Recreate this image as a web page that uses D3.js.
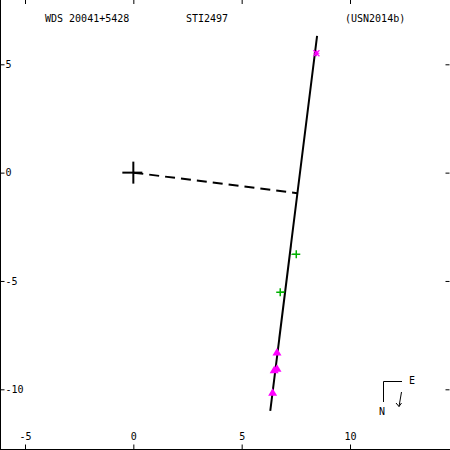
<!DOCTYPE html>
<html>
<head>
<meta charset="utf-8">
<script src="https://cdn.jsdelivr.net/npm/d3@7"></script>
<style>
  body { margin: 0; background: #fff; -webkit-font-smoothing: antialiased; }
  svg { display: block; }
  text { font-family: "DejaVu Sans Mono", monospace; font-size: 10px; fill: #000; }
</style>
</head>
<body>
<svg id="svg" width="450" height="450"></svg>
<script>
// header labels
let titles = ["WDS 20041+5428", "STI2497", "(USN2014b)"];
let titleX = [45, 186, 345];

let xTicks = [-5, 0, 5, 10];
let yTicks = [5, 0, -5, -10];

// orbit line (ends) and the node/periastron foot
let orbitLine = [{x: 8.48, y: 6.31}, {x: 6.32, y: -11.0}];
let nodeLine = [{x: 0, y: 0}, {x: 7.57, y: -0.95}];

// observations: observed point -> predicted point on the orbit
let stars = [
  {x: 8.45, y: 5.51, px: 8.43, py: 5.51}
];
let pluses = [
  {x: 7.52, y: -3.77, px: 7.29, py: -3.77},
  {x: 6.78, y: -5.52, px: 7.00, py: -5.50}
];
let triangles = [
  {x: 6.63, y: -8.30, px: 6.66, py: -8.30},
  {x: 6.50, y: -9.12, px: 6.58, py: -9.12},
  {x: 6.63, y: -9.05, px: 6.58, py: -9.05},
  {x: 6.43, y: -10.16, px: 6.47, py: -10.16}
];

function graph() {
  let svg = d3.select("svg");
  let width = 450, height = 450;

  let x = d3.scaleLinear().domain([-5, 10]).range([25, 350]);
  let y = d3.scaleLinear().domain([5, -10]).range([64.3, 389.3]);

  let line = d3.line()
    .x(d => x(d.x))
    .y(d => y(d.y));

  // frame: only left and bottom edges are inside the picture
  svg.append("line").attr("x1", 0.5).attr("x2", 0.5).attr("y1", 0).attr("y2", height)
    .attr("stroke", "#000").attr("stroke-width", 1);
  svg.append("line").attr("x1", 0).attr("x2", width).attr("y1", 449.5).attr("y2", 449.5)
    .attr("stroke", "#000").attr("stroke-width", 1);

  let fmt = d => String(d);

  let left = svg.append("g").attr("transform", "translate(0.5,0)")
    .call(d3.axisRight(y).tickValues(yTicks).tickSize(4).tickPadding(1).tickFormat(fmt));
  let right = svg.append("g").attr("transform", "translate(449.5,0)")
    .call(d3.axisLeft(y).tickValues(yTicks).tickSize(4).tickFormat(""));
  let bottom = svg.append("g").attr("transform", "translate(0,449.5)")
    .call(d3.axisTop(x).tickValues(xTicks).tickSize(5).tickPadding(5).tickFormat(fmt));
  let top = svg.append("g").attr("transform", "translate(0,0)")
    .call(d3.axisBottom(x).tickValues(xTicks).tickSize(4).tickFormat(""));

  [left, right, bottom, top].forEach(a => {
    a.select(".domain").remove();
    a.selectAll("text").attr("font-family", null).attr("font-size", null).attr("fill", "#000");
    a.selectAll("line").attr("stroke", "#000");
  });

  // titles
  svg.selectAll(".title")
    .data(titles)
    .enter().append("text")
      .attr("x", (d, i) => titleX[i])
      .attr("y", 22)
      .attr("fill", "#000")
      .text(d => d);

  // orbit
  svg.append("path")
    .datum(orbitLine)
    .attr("fill", "none")
    .attr("stroke", "#000")
    .attr("stroke-width", 2)
    .attr("d", line);

  svg.append("path")
    .datum(nodeLine)
    .attr("fill", "none")
    .attr("stroke", "#000")
    .attr("stroke-width", 2)
    .attr("stroke-dasharray", "10,6")
    .attr("d", line);

  // primary star cross
  svg.append("line").attr("x1", x(0) - 11).attr("x2", x(0) + 9)
    .attr("y1", y(0)).attr("y2", y(0)).attr("stroke", "#000").attr("stroke-width", 2);
  svg.append("line").attr("x1", x(0)).attr("x2", x(0))
    .attr("y1", y(0) - 11).attr("y2", y(0) + 11).attr("stroke", "#000").attr("stroke-width", 2);

  // residual lines
  let allObs = [].concat(
    stars.map(d => ({...d, c: "#ff00ff"})),
    pluses.map(d => ({...d, c: "#00b000"})),
    triangles.map(d => ({...d, c: "#ff00ff"})));
  svg.selectAll(".res")
    .data(allObs)
    .enter().append("line")
      .attr("x1", d => x(d.x)).attr("y1", d => y(d.y))
      .attr("x2", d => x(d.px)).attr("y2", d => y(d.py))
      .attr("stroke", d => d.c)
      .attr("stroke-width", 1);

  // green pluses
  svg.selectAll(".plus").data(pluses).enter().append("path")
    .attr("transform", d => "translate(" + x(d.x) + "," + y(d.y) + ")")
    .attr("d", "M-4,0H4M0,-4V4")
    .attr("stroke", "#00b000")
    .attr("stroke-width", 1.5);

  // magenta stars
  svg.selectAll(".star").data(stars).enter().append("path")
    .attr("transform", d => "translate(" + x(d.x) + "," + y(d.y) + ")")
    .attr("d", "M-3,0H3M0,-3V3M-3,-3L3,3M-3,3L3,-3")
    .attr("stroke", "#ff00ff")
    .attr("stroke-width", 1.2);

  // magenta triangles
  svg.selectAll(".tri")
    .data(triangles)
    .enter().append("path")
      .attr("transform", d => "translate(" + x(d.x) + "," + y(d.y) + ")")
      .attr("d", "M0,-4.5L4.5,3H-4.5Z")
      .attr("fill", "#ff00ff");

  // compass
  svg.append("path")
    .attr("d", "M383.5,402V381.5H402")
    .attr("fill", "none")
    .attr("stroke", "#000")
    .attr("stroke-width", 1);
  svg.append("text").attr("x", 409).attr("y", 384).attr("fill", "#000").text("E");
  svg.append("text").attr("x", 379).attr("y", 415).attr("fill", "#000").text("N");
  svg.append("path")
    .attr("d", "M401.5,392L399,406.5M396,403L399,406.5L401.5,403")
    .attr("fill", "none")
    .attr("stroke", "#000")
    .attr("stroke-width", 1);
}

graph();
</script>
</body>
</html>
